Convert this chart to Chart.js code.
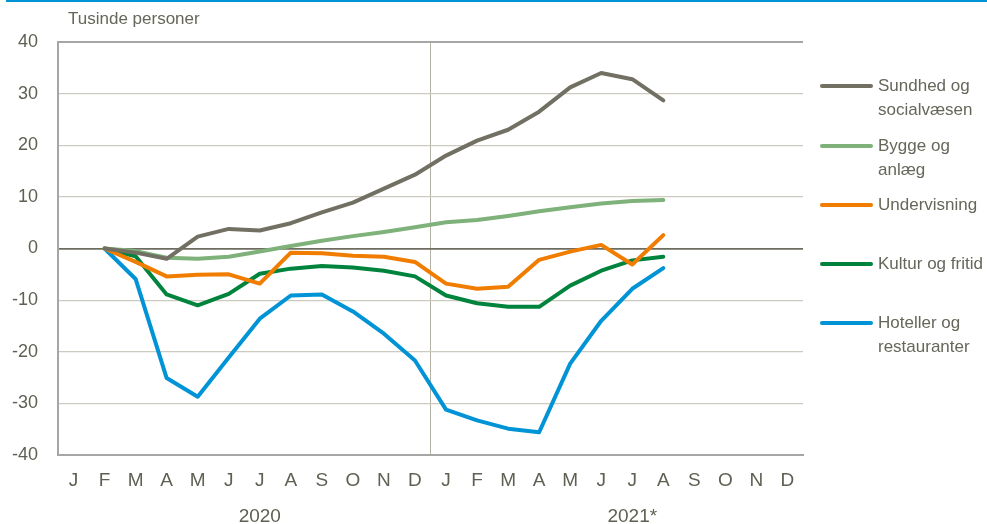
<!DOCTYPE html>
<html>
<head>
<meta charset="utf-8">
<script src="https://cdn.jsdelivr.net/npm/chart.js@4/dist/chart.umd.min.js"></script>
<style>
  html, body { margin: 0; padding: 0; background: #fff; }
  #wrap { position: relative; width: 987px; height: 524px; font-family: "Liberation Sans", Arial, sans-serif; }
  #topline { position: absolute; left: 6px; right: 0; top: 0; height: 2px; background: #0093d5; }
  #ytitle { position: absolute; left: 68px; top: 9px; font-size: 17px; color: #66665a; white-space: nowrap; }
  canvas { position: absolute; left: 0; top: 0; }
  .leg { position: absolute; left: 820px; font-size: 17px; line-height: 24px; color: #66665a; }
  .leg .sw { position: absolute; left: 0; top: 10px; width: 53px; height: 4px; border-radius: 2px; }
  .leg .tx { position: absolute; left: 58px; top: 0; white-space: nowrap; }
</style>
</head>
<body>
<div id="wrap">
  <div id="topline"></div>
  <canvas id="c" width="987" height="524"></canvas>
  <div id="ytitle">Tusinde personer</div>
  <div id="legend"></div>
</div>
<script>
const months = ['J','F','M','A','M','J','J','A','S','O','N','D','J','F','M','A','M','J','J','A','S','O','N','D'];
const years = ['2020', '2021*'];
const yTitle = 'Tusinde personer';

const seriesNames = [['Sundhed og', 'socialvæsen'], ['Bygge og', 'anlæg'], ['Undervisning'], ['Kultur og fritid'], ['Hoteller og', 'restauranter']];
const seriesColors = ['#727063', '#7fb27a', '#f07d00', '#00843d', '#0094d6'];

const sundhed      = [null, 0, -0.8, -2.0, 2.3, 3.8, 3.5, 4.9, 7.0, 8.9, 11.6, 14.3, 18.0, 20.9, 23.0, 26.5, 31.2, 34.0, 32.8, 28.7, null, null, null, null];
const bygge        = [null, 0, -0.5, -1.8, -2.0, -1.6, -0.6, 0.5, 1.5, 2.4, 3.2, 4.1, 5.1, 5.5, 6.3, 7.2, 8.0, 8.7, 9.2, 9.4, null, null, null, null];
const undervisning = [null, 0, -2.6, -5.4, -5.1, -5.0, -6.8, -0.8, -0.9, -1.4, -1.6, -2.6, -6.8, -7.8, -7.4, -2.2, -0.6, 0.7, -3.1, 2.6, null, null, null, null];
const kultur       = [null, 0, -1.5, -8.9, -11.0, -8.8, -4.9, -3.9, -3.4, -3.7, -4.3, -5.4, -9.1, -10.6, -11.3, -11.3, -7.2, -4.3, -2.3, -1.6, null, null, null, null];
const hoteller     = [null, 0, -5.9, -25.1, -28.7, -21.1, -13.6, -9.1, -8.9, -12.2, -16.5, -21.7, -31.2, -33.3, -34.9, -35.6, -22.3, -14.0, -7.8, -3.8, null, null, null, null];

const yTicks = { min: -40, max: 40, step: 10 };

const seriesData = [sundhed, bygge, undervisning, kultur, hoteller];
const legendTops = [74, 134, 193, 252, 311];

const textColor = '#5f5f53';
const borderGray = '#a6a6a6';
const axisFont = '"Liberation Sans", Arial, sans-serif';

const datasets = seriesData.map((d, i) => ({
  label: seriesNames[i].join(' '),
  data: d,
  borderColor: seriesColors[i],
  backgroundColor: seriesColors[i],
  borderWidth: 4,
  pointRadius: 0,
  tension: 0,
  borderCapStyle: 'round',
  borderJoinStyle: 'round',
  spanGaps: false
}));

// legend (HTML)
const legEl = document.getElementById('legend');
seriesNames.forEach((n, i) => {
  const d = document.createElement('div');
  d.className = 'leg';
  d.style.top = legendTops[i] + 'px';
  const sw = document.createElement('span');
  sw.className = 'sw';
  sw.style.background = seriesColors[i];
  const tx = document.createElement('span');
  tx.className = 'tx';
  tx.innerHTML = n.join('<br>');
  d.appendChild(sw); d.appendChild(tx);
  legEl.appendChild(d);
});

new Chart(document.getElementById('c'), {
  type: 'line',
  data: { labels: months, datasets },
  options: {
    responsive: false,
    animation: false,
    layout: { padding: { left: 0, right: 184, top: 42, bottom: 0 } },
    plugins: { legend: { display: false }, tooltip: { enabled: false } },
    scales: {
      x: {
        type: 'category',
        offset: true,
        position: 'bottom',
        grid: {
          offset: true,
          drawTicks: false,
          lineWidth: ctx => (ctx.index === 0 || ctx.index === 24) ? 2 : 1,
          color: ctx => ctx.index === 12 ? '#b4b2a4' : ((ctx.index === 0 || ctx.index === 24) ? borderGray : 'rgba(0,0,0,0)')
        },
        border: { display: true, color: borderGray, width: 2 },
        ticks: {
          autoSkip: false, maxRotation: 0, padding: 14,
          color: textColor,
          font: { family: axisFont, size: 19 }
        },
        afterFit: s => { s.height = 36; }
      },
      x2: {
        type: 'category',
        labels: months,
        offset: true,
        position: 'bottom',
        grid: { display: false, drawTicks: false },
        border: { display: false },
        ticks: {
          autoSkip: false, maxRotation: 0, padding: 14,
          color: textColor,
          font: { family: axisFont, size: 19 },
          callback: (v, i) => i === 6 ? years[0] : (i === 18 ? years[1] : '')
        },
        afterFit: s => { s.height = 33; }
      },
      y: {
        min: yTicks.min, max: yTicks.max,
        ticks: {
          stepSize: yTicks.step, padding: 20,
          color: textColor,
          font: { family: axisFont, size: 18 }
        },
        grid: {
          drawTicks: false,
          color: ctx => ctx.tick.value === 0 ? '#6e6c60' : (Math.abs(ctx.tick.value) === 40 ? borderGray : '#cdcbbf'),
          lineWidth: ctx => ctx.tick.value === 0 ? 1.8 : (Math.abs(ctx.tick.value) === 40 ? 2 : 1.2)
        },
        border: { display: true, color: borderGray, width: 2 },
        afterFit: s => { s.width = 58; }
      }
    }
  }
});
</script>
</body>
</html>
